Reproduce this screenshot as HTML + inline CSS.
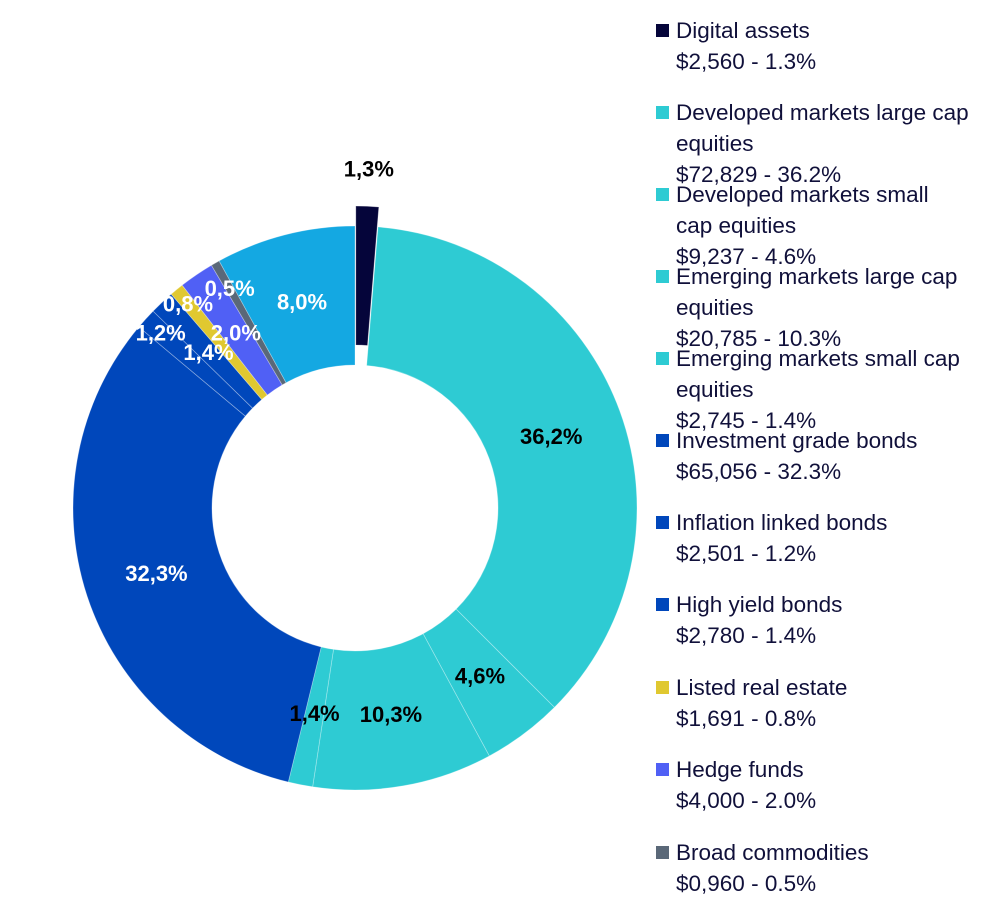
<!DOCTYPE html>
<html><head><meta charset="utf-8"><style>
body{margin:0;width:1006px;height:918px;background:#fff;overflow:hidden;font-family:"Liberation Sans",sans-serif;}
#legend{position:absolute;left:0;top:0;}
.le{position:absolute;left:656px;font-size:22.5px;color:#10103a;line-height:31px;}
.sw{position:absolute;left:0;top:9px;width:13px;height:13px;}
.lt{margin-left:20px;white-space:nowrap;}
</style></head><body>
<svg id="chart" width="1006" height="918" style="position:absolute;left:0;top:0"></svg>
<div id="legend"></div>
<script>
const categories=["Digital assets","Developed markets large cap equities","Developed markets small cap equities","Emerging markets large cap equities","Emerging markets small cap equities","Investment grade bonds","Inflation linked bonds","High yield bonds","Listed real estate","Hedge funds","Broad commodities","Cash"];
const values=[1.3,36.2,4.6,10.3,1.4,32.3,1.2,1.4,0.8,2.0,0.5,8.0];
const amounts=["$2,560","$72,829","$9,237","$20,785","$2,745","$65,056","$2,501","$2,780","$1,691","$4,000","$0,960",""];
const legendLines=[["Digital assets"],["Developed markets large cap","equities"],["Developed markets small","cap equities"],["Emerging markets large cap","equities"],["Emerging markets small cap","equities"],["Investment grade bonds"],["Inflation linked bonds"],["High yield bonds"],["Listed real estate"],["Hedge funds"],["Broad commodities"]];
const colors=["#05053a","#2ecbd3","#2ecbd3","#2ecbd3","#2ecbd3","#0047bb","#0047bb","#0047bb","#e0c830","#5060f5","#5a6878","#14a8e2"];
const labelColors=["#000","#000","#000","#000","#000","#fff","#fff","#fff","#fff","#fff","#fff","#fff"];
const labelR=[340,209,209,209,209,209,262,214,264,212,253,213];
const legendTops=[15,97,179,261,343,425,507,589,672,754,837];

const svg=document.getElementById('chart');
const NS='http://www.w3.org/2000/svg';
const cx=355,cy=508,R=282,r=143;
const total=values.reduce((a,b)=>a+b,0);
function pt(a,rad,ox,oy){return [ox+rad*Math.sin(a),oy-rad*Math.cos(a)];}
let cum=0;
values.forEach((v,i)=>{
  const a0=cum/total*2*Math.PI,a1=(cum+v)/total*2*Math.PI;cum+=v;
  const am=(a0+a1)/2;
  const off=i===0?20:0;
  const ox=cx+off*Math.sin(am),oy=cy-off*Math.cos(am);
  const p1=pt(a0,R,ox,oy),p2=pt(a1,R,ox,oy),p3=pt(a1,r,ox,oy),p4=pt(a0,r,ox,oy);
  const lg=(a1-a0)>Math.PI?1:0;
  const path=document.createElementNS(NS,'path');
  path.setAttribute('d',`M${p1}A${R},${R} 0 ${lg} 1 ${p2}L${p3}A${r},${r} 0 ${lg} 0 ${p4}Z`);
  path.setAttribute('fill',colors[i]);
  path.setAttribute('stroke','rgba(255,255,255,0.35)');
  path.setAttribute('stroke-width','0.8');
  
  
  svg.appendChild(path);
});
cum=0;
values.forEach((v,i)=>{
  const am=(cum+v/2)/total*2*Math.PI;cum+=v;
  const p=pt(am,labelR[i],cx,cy);
  const t=document.createElementNS(NS,'text');
  t.setAttribute('x',p[0]);t.setAttribute('y',p[1]+8);
  t.setAttribute('text-anchor','middle');
  t.setAttribute('font-size','22');t.setAttribute('font-weight','bold');
  t.setAttribute('fill',labelColors[i]);
  t.setAttribute('font-family','Liberation Sans, sans-serif');
  t.textContent=v.toFixed(1).replace('.',',')+'%';
  
  
  svg.appendChild(t);
});
const leg=document.getElementById('legend');
legendLines.forEach((lines,i)=>{
  const d=document.createElement('div');
  d.className='le';d.style.top=legendTops[i]+'px';
  
  
  const sw=document.createElement('div');sw.className='sw';sw.style.background=colors[i];
  
  
  d.appendChild(sw);
  const tx=document.createElement('div');tx.className='lt';
  tx.innerHTML=lines.join('<br>')+'<br>'+amounts[i]+' - '+values[i].toFixed(1)+'%';
  d.appendChild(tx);
  leg.appendChild(d);
});
</script>
</body></html>
